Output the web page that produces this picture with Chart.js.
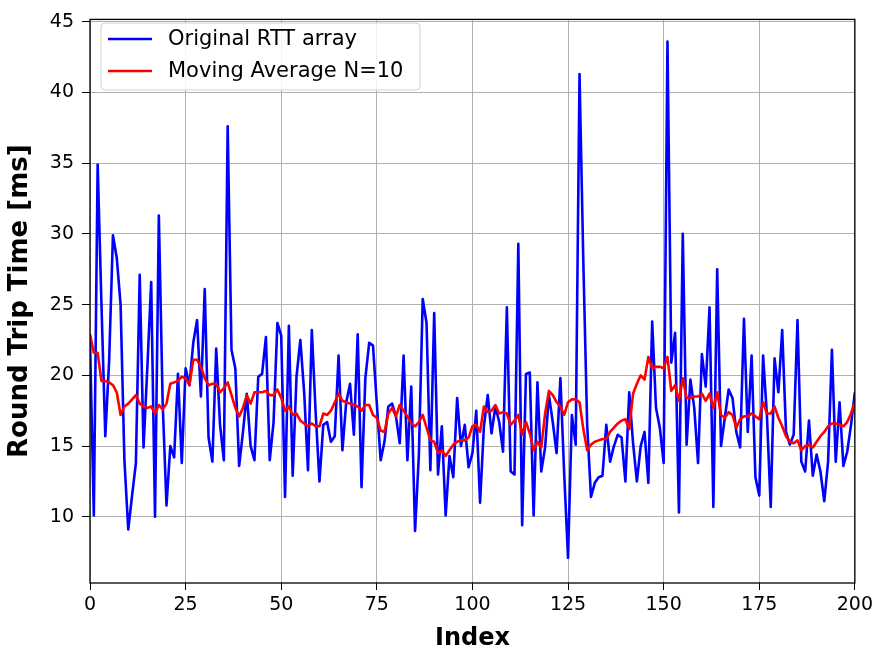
<!DOCTYPE html>
<html>
<head>
<meta charset="utf-8">
<script src="https://cdn.jsdelivr.net/npm/chart.js@4.4.1/dist/chart.umd.min.js"></script>
<style>
    body { margin: 0; background: #fff; }
    #chart { display: block; }
</style>
</head>
<body>
<canvas id="chart" width="877" height="655"></canvas>
<script>
// RTT samples, index 0..200
const rttValues = [
    22.5, 10.1, 34.9, 25.0, 15.7, 21.0, 29.9, 28.3, 25.0, 14.0,
    9.1, 11.5, 13.8, 27.1, 14.9, 20.6, 26.6, 10.0, 31.3, 18.1,
    10.8, 15.0, 14.2, 20.1, 13.8, 20.5, 19.3, 22.3, 23.9, 18.5,
    26.1, 15.6, 13.9, 21.9, 16.5, 14.0, 37.6, 21.8, 20.5, 13.6,
    16.0, 18.7, 15.0, 14.0, 19.9, 20.1, 22.7, 14.0, 16.7, 23.7,
    22.8, 11.4, 23.5, 12.9, 19.9, 22.5, 18.8, 13.3, 23.2, 17.4,
    12.5, 16.5, 16.7, 15.3, 15.7, 21.4, 14.7, 18.1, 19.4, 15.8,
    22.9, 12.1, 19.8, 22.3, 22.1, 18.0, 14.0, 15.3, 17.8, 18.0,
    17.1, 15.2, 21.4, 14.0, 19.2, 9.0, 14.4, 25.4, 23.7, 13.3,
    24.4, 13.0, 16.4, 10.1, 14.3, 12.8, 18.4, 15.0, 16.5, 13.5,
    14.5, 17.5, 11.0, 16.4, 18.6, 15.9, 17.8, 16.7, 14.6, 24.8,
    13.2, 13.0, 29.3, 9.4, 20.1, 20.2, 10.1, 19.5, 13.2, 14.9,
    18.6, 16.7, 14.5, 19.8, 13.0, 7.1, 17.2, 15.1, 41.3, 28.0,
    16.5, 11.4, 12.4, 12.8, 12.9, 16.5, 13.9, 15.0, 15.8, 15.6,
    12.5, 18.8, 15.2, 12.5, 15.0, 16.0, 12.4, 23.8, 17.7, 16.3,
    13.8, 43.6, 20.9, 23.0, 10.3, 30.0, 15.1, 19.7, 17.7, 13.8,
    21.5, 19.2, 24.8, 10.7, 27.5, 15.0, 17.0, 19.0, 18.4, 16.0,
    14.9, 24.0, 16.0, 21.4, 12.8, 11.5, 21.4, 17.2, 10.7, 21.2,
    18.8, 23.2, 16.0, 15.1, 15.8, 23.9, 13.9, 13.2, 16.8, 12.9,
    14.4, 13.2, 11.1, 13.9, 21.8, 13.9, 18.1, 13.6, 14.6, 16.5,
    18.8
];

// moving average curve as drawn
const movingAverage = [
    22.9, 21.6, 21.6, 19.6, 19.6, 19.5, 19.3, 18.8, 17.2, 17.8,
    18.0, 18.3, 18.6, 18.0, 17.8, 17.7, 17.8, 17.3, 17.9, 17.6,
    18.0, 19.4, 19.5, 19.6, 19.9, 19.8, 19.3, 21.1, 21.1, 20.6,
    19.8, 19.3, 19.4, 19.4, 18.8, 19.1, 19.5, 18.6, 17.7, 17.1,
    17.7, 18.6, 18.0, 18.8, 18.8, 18.8, 18.9, 18.6, 18.6, 19.0,
    18.4, 17.5, 17.8, 17.2, 17.3, 16.8, 16.6, 16.4, 16.6, 16.4,
    16.4, 17.3, 17.2, 17.5, 18.1, 18.7, 18.2, 18.1, 18.0, 17.9,
    17.8, 17.5, 17.9, 17.9, 17.2, 17.0, 16.1, 16.0, 17.3, 17.7,
    17.1, 17.9, 17.5, 17.1, 16.6, 16.4, 16.7, 17.2, 16.3, 15.4,
    15.3, 14.5, 14.7, 14.3, 14.7, 15.1, 15.3, 15.4, 15.4, 15.6,
    16.4, 16.5, 16.0, 17.8, 17.4, 17.5, 17.9, 17.3, 17.4, 17.3,
    16.5, 16.8, 17.2, 15.8, 16.7, 15.9, 14.7, 15.3, 14.9, 17.3,
    18.9, 18.6, 18.1, 17.8, 17.2, 18.1, 18.3, 18.3, 18.1, 16.2,
    14.7, 15.1, 15.3, 15.4, 15.5, 15.5, 16.0, 16.3, 16.6, 16.8,
    16.9, 16.2, 18.7, 19.4, 20.0, 19.7, 21.3, 20.5, 20.6, 20.6,
    20.5, 21.3, 18.9, 19.3, 18.2, 19.8, 18.4, 18.4, 18.5, 18.5,
    18.7, 18.2, 18.7, 17.7, 18.8, 17.2, 17.0, 17.4, 17.2, 16.3,
    16.9, 17.1, 17.1, 17.3, 17.1, 16.9, 18.1, 17.3, 17.3, 17.8,
    17.0, 16.4, 15.7, 15.3, 15.2, 15.4, 14.7, 15.0, 15.1, 14.9,
    15.3, 15.7, 16.0, 16.4, 16.6, 16.6, 16.5, 16.4, 16.7, 17.3,
    18.1
];

const xTicks = [0, 25, 50, 75, 100, 125, 150, 175, 200];
const yTicks = [10, 15, 20, 25, 30, 35, 40, 45];

const seriesLabels = ['Original RTT array', 'Moving Average N=10'];
const seriesColors = ['#0000ff', '#ff0000'];


function toPoints(values) {
    return values.map((v, i) => ({x: i, y: v}));
}


// box around the whole plot area, like matplotlib's spines
const frame = {
    id: 'frame',
    afterDraw(chart) {
        const {ctx, chartArea: a} = chart;
        ctx.save();
        ctx.strokeStyle = '#000';
        ctx.lineWidth = 1.3;
        ctx.strokeRect(a.left, a.top, a.right - a.left, a.bottom - a.top);
        ctx.restore();
    }
};

// legend drawn inside the plot, upper left
const innerLegend = {
    id: 'innerLegend',
    afterDatasetsDraw(chart) {
        const ctx = chart.ctx;
        const bx = 101, by = 23, bw = 319, bh = 67;
        ctx.save();
        ctx.beginPath();
        ctx.roundRect(bx, by, bw, bh, 4);
        ctx.fillStyle = 'rgba(255,255,255,0.85)';
        ctx.fill();
        ctx.strokeStyle = '#d0d0d0';
        ctx.lineWidth = 1;
        ctx.stroke();

        ctx.font = '21px "DejaVu Sans"';
        ctx.textBaseline = 'middle';
        chart.data.datasets.forEach((ds, k) => {
            const y = by + 16 + k * 32;
            ctx.beginPath();
            ctx.moveTo(bx + 7, y);
            ctx.lineTo(bx + 51, y);
            ctx.strokeStyle = ds.borderColor;
            ctx.lineWidth = 2.6;
            ctx.stroke();
            ctx.fillStyle = '#000';
            ctx.fillText(ds.label, bx + 67, y + 1);
        });
        ctx.restore();
    }
};


Chart.defaults.color = '#000';
Chart.defaults.font.family = '"DejaVu Sans", sans-serif';

new Chart(document.getElementById('chart'), {
    type: 'line',
    data: {
        datasets: [{
            label: seriesLabels[0],
            data: toPoints(rttValues),
            borderColor: seriesColors[0],
            borderWidth: 2.6,
            order: 2
        }, {
            label: seriesLabels[1],
            data: toPoints(movingAverage),
            borderColor: seriesColors[1],
            borderWidth: 2.6,
            order: 1
        }]
    },
    options: {
        responsive: false,
        animation: false,
        layout: {padding: {top: 13, right: 21, left: 0, bottom: 0}},
        elements: {
            point: {radius: 0},
            line: {tension: 0, borderJoinStyle: 'round'}
        },
        plugins: {
            legend: {display: false},
            tooltip: {enabled: false}
        },
        scales: {
            x: {
                type: 'linear',
                min: 0,
                max: 200,
                afterBuildTicks: (axis) => { axis.ticks = xTicks.map(v => ({value: v})); },
                afterFit: (axis) => { axis.height = 72; },
                border: {display: false},
                grid: {color: '#b0b0b0', lineWidth: 1, tickColor: '#000', tickLength: 7},
                ticks: {font: {size: 19}, padding: 4, maxRotation: 0},
                title: {
                    display: true,
                    text: 'Index',
                    font: {size: 24, weight: 'bold'},
                    padding: {top: 0, bottom: 2}
                }
            },
            y: {
                min: 5.32,
                max: 45.16,
                afterBuildTicks: (axis) => { axis.ticks = yTicks.map(v => ({value: v})); },
                afterFit: (axis) => { axis.width = 90; },
                border: {display: false},
                grid: {color: '#b0b0b0', lineWidth: 1, tickColor: '#000', tickLength: 8},
                ticks: {font: {size: 19}, padding: 8},
                title: {
                    display: true,
                    text: 'Round Trip Time [ms]',
                    font: {size: 26, weight: 'bold'},
                    padding: {top: 5, bottom: 0}
                }
            }
        }
    },
    plugins: [innerLegend, frame]
});
</script>
</body>
</html>
